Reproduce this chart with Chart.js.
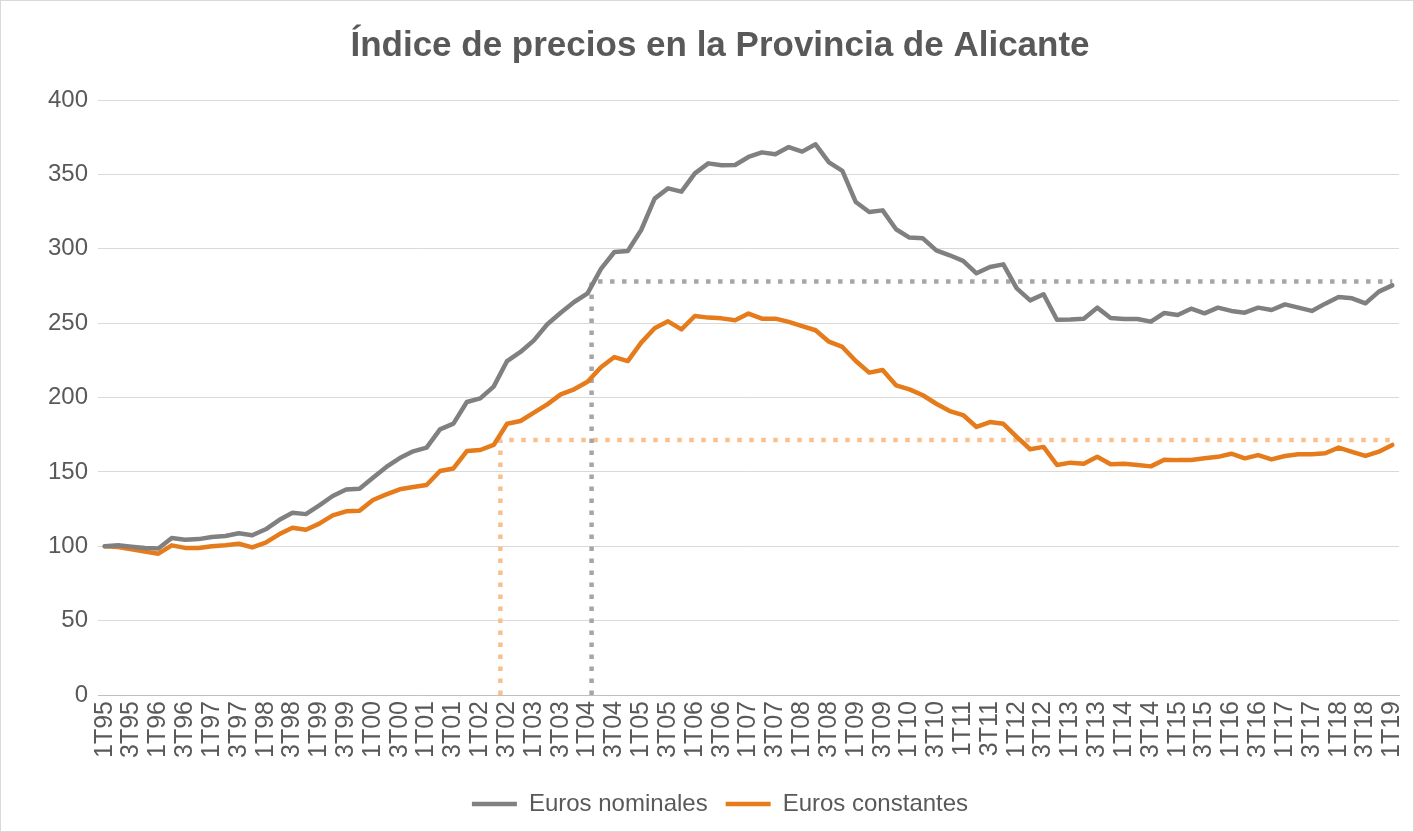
<!DOCTYPE html>
<html><head><meta charset="utf-8">
<script src="https://cdn.jsdelivr.net/npm/chart.js@4.4.1/dist/chart.umd.min.js"></script>
<style>html,body{margin:0;padding:0;background:#fff;}canvas{display:block;}</style>
</head><body>
<canvas id="c" width="1414" height="832"></canvas>
<script>
const quarters = [
 '1T95','2T95','3T95','4T95','1T96','2T96','3T96','4T96','1T97','2T97','3T97','4T97',
 '1T98','2T98','3T98','4T98','1T99','2T99','3T99','4T99','1T00','2T00','3T00','4T00',
 '1T01','2T01','3T01','4T01','1T02','2T02','3T02','4T02','1T03','2T03','3T03','4T03',
 '1T04','2T04','3T04','4T04','1T05','2T05','3T05','4T05','1T06','2T06','3T06','4T06',
 '1T07','2T07','3T07','4T07','1T08','2T08','3T08','4T08','1T09','2T09','3T09','4T09',
 '1T10','2T10','3T10','4T10','1T11','2T11','3T11','4T11','1T12','2T12','3T12','4T12',
 '1T13','2T13','3T13','4T13','1T14','2T14','3T14','4T14','1T15','2T15','3T15','4T15',
 '1T16','2T16','3T16','4T16','1T17','2T17','3T17','4T17','1T18','2T18','3T18','4T18',
 '1T19'
];
const nominal = [
 100,100.6,99.7,98.9,98.5,105.5,104.4,104.8,106.2,106.9,108.7,107.4,
 111.4,117.6,122.5,121.6,127.5,133.8,138.2,138.7,146.1,153.3,159.3,163.8,
 166.3,178.6,182.4,197,199.4,207.3,224.5,230.6,238.4,249.2,257,264.2,
 270,286.5,297.8,298.5,312.6,333.7,340.6,338.4,350.7,357.4,356.1,356.3,
 361.7,364.8,363.5,368.4,365.3,370.2,358.1,352.3,331.4,324.7,325.8,313.1,
 307.5,307,298.9,295.6,291.8,283.5,287.7,289.5,273.4,265.3,269.4,252.3,
 252.5,253,260.4,253.5,252.8,252.8,251,256.8,255.5,259.7,256.6,260.4,
 258.2,257,260.4,258.8,262.6,260.4,258.2,263.1,267.6,266.7,263.3,271.2,
 275.4
];
const constant = [
 100,99.5,97.9,96.4,95,100.6,98.9,98.8,100,100.6,101.7,99.2,
 102.4,108,112.5,111.1,115.2,120.8,123.5,123.8,131.1,134.9,138.3,139.8,
 141.2,150.6,152.3,164,164.7,168.1,182.4,184.2,189.8,195.4,202.1,205.5,
 210.6,220.3,227.2,224.5,236.9,246.5,251.2,245.8,254.8,253.7,253.2,251.9,
 256.4,253,253,250.8,248,245.2,237.5,234,224.5,216.7,218.5,208.2,
 205.5,201.5,195.8,190.9,188.2,180.2,183.5,182.3,173.5,165.2,166.8,154.6,
 156.2,155.5,160.2,155.1,155.5,154.6,153.7,158.2,157.9,158,159.1,160.1,
 162.2,159.1,161.3,158.4,160.7,161.8,161.8,162.5,166.3,163.4,160.7,163.6,
 168.1
];
// reference guides (quarter position, index level)
const nominalGuideQuarter = 36.3, nominalGuideLevel = 278;
const constantGuideQuarter = 29.5, constantGuideLevel = 171.5;
const seriesNames = ['Euros nominales','Euros constantes'];
const titleText = 'Índice de precios en la Provincia de Alicante';

const FONT = "'Liberation Sans', Arial, sans-serif";
const lastQ = quarters.length - 1;
const toXY = arr => arr.map((v, i) => ({x: i, y: v}));
const guide = (q, lvl) => [{x: q, y: 0}, {x: q, y: lvl}, {x: lastQ, y: lvl}];

const frame = {
  id: 'frame',
  beforeDraw(chart) {
    const ctx = chart.ctx;
    ctx.save();
    ctx.fillStyle = '#fff';
    ctx.fillRect(0, 0, chart.width, chart.height);
    ctx.strokeStyle = '#d9d9d9';
    ctx.lineWidth = 1;
    ctx.strokeRect(0.5, 0.5, chart.width - 1, chart.height - 1);
    ctx.restore();
  }
};

new Chart(document.getElementById('c'), {
  type: 'line',
  data: {
    datasets: [
      {label: seriesNames[0], data: toXY(nominal), borderColor: '#808080', backgroundColor: '#808080',
       borderWidth: 4.5, pointRadius: 0, tension: 0, borderCapStyle: 'round', borderJoinStyle: 'round', order: 1},
      {label: seriesNames[1], data: toXY(constant), borderColor: '#e57b1b', backgroundColor: '#e57b1b',
       borderWidth: 4.5, pointRadius: 0, tension: 0, borderCapStyle: 'round', borderJoinStyle: 'round', order: 1},
      {label: 'g1', data: guide(nominalGuideQuarter, nominalGuideLevel), borderColor: '#a6a6a6',
       borderWidth: 4.5, borderDash: [4.5, 7.5], pointRadius: 0, tension: 0, order: 2},
      {label: 'g2', data: guide(constantGuideQuarter, constantGuideLevel), borderColor: '#fabf8f',
       borderWidth: 4.5, borderDash: [4.5, 7.5], pointRadius: 0, tension: 0, order: 2}
    ]
  },
  options: {
    responsive: false,
    animation: false,
    devicePixelRatio: 1,
    layout: {padding: {left: 41, right: 15, top: 0, bottom: 6}},
    plugins: {
      tooltip: {enabled: false},
      title: {
        display: true, text: titleText, color: '#595959',
        font: {family: FONT, size: 35, weight: 'bold'},
        padding: {top: 25, bottom: 33}
      },
      legend: {
        position: 'bottom',
        labels: {
          color: '#595959', font: {family: FONT, size: 24},
          usePointStyle: true, pointStyle: 'line', pointStyleWidth: 45, boxHeight: 24,
          padding: 18,
          filter: item => item.datasetIndex < 2
        }
      }
    },
    scales: {
      x: {
        type: 'linear', min: -0.5, max: lastQ + 0.5,
        grid: {display: false, drawTicks: false},
        border: {display: true, color: '#bfbfbf', width: 1},
        afterBuildTicks: s => { s.ticks = quarters.map((q, i) => ({value: i})).filter(t => t.value % 2 === 0); },
        afterFit: s => { s.height = 79; s.paddingLeft = 2; s.paddingRight = 2; },
        ticks: {
          autoSkip: false, minRotation: 90, maxRotation: 90, padding: 6,
          color: '#595959', font: {family: FONT, size: 25},
          callback: v => quarters[v]
        }
      },
      y: {
        min: 0, max: 400,
        afterFit: s => { s.width = 57; },
        grid: {color: '#d9d9d9', lineWidth: 1, drawTicks: false},
        border: {display: false},
        ticks: {stepSize: 50, padding: 10, color: '#595959', font: {family: FONT, size: 24}}
      }
    }
  },
  plugins: [frame]
});
</script>
</body></html>
